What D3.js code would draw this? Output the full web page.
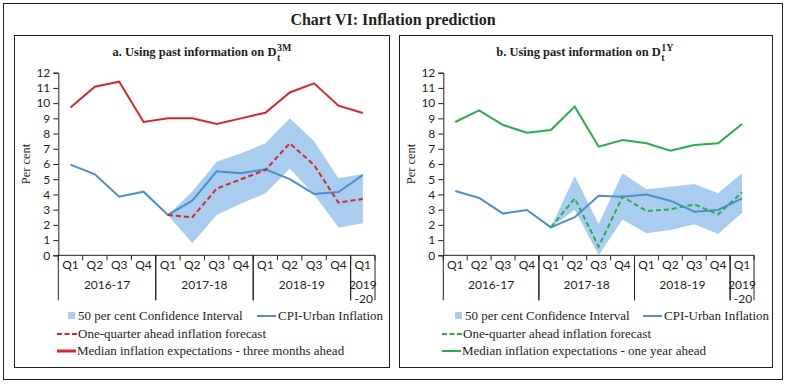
<!DOCTYPE html>
<html>
<head>
<meta charset="utf-8">
<script src="https://cdn.jsdelivr.net/npm/d3@7"></script>
<style>
  body { margin: 0; background: #fff; }
  svg { display: block; }
  .serif { font-family: "Liberation Serif", "DejaVu Serif", serif; fill: #231f20; }
  .tick text { font-family: Lato, "Open Sans", sans-serif; font-size: 12px; fill: #231f20; }
</style>
</head>
<body>
<div id="chart"></div>
<script>
// categories
const quarters = ['Q1','Q2','Q3','Q4','Q1','Q2','Q3','Q4','Q1','Q2','Q3','Q4','Q1'];
const years = [
  {label: ['2016-17'], start: 0, end: 4},
  {label: ['2017-18'], start: 4, end: 8},
  {label: ['2018-19'], start: 8, end: 12},
  {label: ['2019', '-20'], start: 12, end: 13}
];
const yTicks = [0,1,2,3,4,5,6,7,8,9,10,11,12];

// panel a: three months ahead
const cpiA      = [5.96, 5.32, 3.85, 4.18, 2.65, 3.59, 5.52, 5.39, 5.65, 5.01, 4.03, 4.16, 5.28];
const medianA   = [9.72, 11.08, 11.41, 8.76, 9.0, 9.0, 8.63, 9.0, 9.37, 10.7, 11.3, 9.83, 9.35];
const forecastA = [null, null, null, null, 2.65, 2.5, 4.38, 5.0, 5.6, 7.36, 5.93, 3.46, 3.7];
const ciUpperA  = [null, null, null, null, 2.65, 4.2, 6.15, 6.7, 7.36, 9.0, 7.5, 5.06, 5.35];
const ciLowerA  = [null, null, null, null, 2.65, 0.79, 2.65, 3.4, 4.07, 5.68, 4.0, 1.82, 2.1];

// panel b: one year ahead
const cpiB      = [4.23, 3.77, 2.74, 2.98, 1.84, 2.5, 3.92, 3.85, 4.0, 3.59, 2.87, 2.98, 3.74];
const medianB   = [8.76, 9.52, 8.56, 8.06, 8.23, 9.77, 7.14, 7.58, 7.36, 6.88, 7.25, 7.36, 8.63];
const forecastB = [null, null, null, null, 1.84, 3.74, 0.57, 3.85, 2.91, 3.02, 3.35, 2.69, 4.14];
const ciUpperB  = [null, null, null, null, 1.84, 5.21, 2.05, 5.39, 4.34, 4.51, 4.69, 4.07, 5.39];
const ciLowerB  = [null, null, null, null, 1.84, 3.0, 0.0, 2.36, 1.45, 1.66, 2.04, 1.4, 2.8];

const W = 787, H = 384;
const blue = '#4a8fd2', ciBlue = '#a9cdee', red = '#d7282b', green = '#2aae4a';

const svg = d3.select('#chart').append('svg').attr('width', W).attr('height', H);

svg.append('rect').attr('x', 3.5).attr('y', 3.5).attr('width', 779).attr('height', 376)
  .attr('fill', 'none').attr('stroke', '#231f20').attr('stroke-width', 1);
svg.append('text').attr('class', 'serif').attr('x', 393).attr('y', 25)
  .attr('text-anchor', 'middle').attr('font-size', 16).attr('font-weight', 'bold')
  .text('Chart VI: Inflation prediction');

function drawPanel(opt) {
  const g = svg.append('g');
  g.append('rect').attr('x', opt.box[0] + 0.5).attr('y', 35.5)
    .attr('width', opt.box[1] - opt.box[0]).attr('height', 332)
    .attr('fill', 'none').attr('stroke', '#231f20').attr('stroke-width', 1);

  // title with stacked super/subscript
  const cx = (opt.box[0] + opt.box[1]) / 2;
  const title = g.append('text').attr('class', 'serif').attr('y', 56)
    .attr('font-size', 12.5).attr('font-weight', 'bold').text(opt.title);
  const tw = title.node().getComputedTextLength();
  const x0 = cx - (tw + 14) / 2;
  title.attr('x', x0);
  g.append('text').attr('class', 'serif').attr('x', x0 + tw + 0.5).attr('y', 51)
    .attr('font-size', 10).attr('font-weight', 'bold').text(opt.sup);
  g.append('text').attr('class', 'serif').attr('x', x0 + tw + 0.5).attr('y', 61)
    .attr('font-size', 10).attr('font-weight', 'bold').text('t');

  const x = d3.scaleBand().domain(d3.range(quarters.length)).range(opt.xr).padding(0);
  const y = d3.scaleLinear().domain([0, 12]).range([255.3, 72.7]);
  const px = i => x(i) + x.bandwidth() / 2;

  // confidence band
  const idx = d3.range(quarters.length).filter(i => opt.upper[i] != null);
  g.append('path').datum(idx)
    .attr('fill', ciBlue).attr('stroke', 'none')
    .attr('d', d3.area().x(px).y0(i => y(opt.lower[i])).y1(i => y(opt.upper[i])));

  // y axis
  const ya = g.append('g').attr('transform', `translate(${opt.xr[0]},0)`)
    .call(d3.axisLeft(y).tickValues(yTicks).tickSize(5).tickPadding(3));
  ya.select('.domain').attr('stroke', '#231f20');
  ya.selectAll('.tick line').attr('stroke', '#231f20');

  // x axis: short ticks at each quarter, long at year boundaries
  const xa = g.append('g').attr('transform', 'translate(0,255.3)');
  xa.append('line').attr('x1', opt.xr[0]).attr('x2', opt.xr[1])
    .attr('stroke', '#231f20');
  d3.range(quarters.length + 1).forEach(i => {
    const bx = i < quarters.length ? x(i) : opt.xr[1];
    xa.append('line').attr('x1', bx).attr('x2', bx).attr('y1', 0).attr('y2', 5)
      .attr('stroke', '#231f20');
  });
  years.forEach(yr => {
    [yr.start, yr.end].forEach(b => {
      const bx = b < quarters.length ? x(b) : opt.xr[1];
      xa.append('line').attr('x1', bx).attr('x2', bx).attr('y1', 0).attr('y2', 45)
        .attr('stroke', '#231f20');
    });
    const mx = (x(yr.start) + (yr.end < quarters.length ? x(yr.end) : opt.xr[1])) / 2;
    yr.label.forEach((l, k) => {
      xa.append('text').attr('x', mx + (k ? 1 : 0)).attr('y', 34 + k * 14)
        .attr('text-anchor', 'middle')
        .style('font-family', 'Lato, sans-serif').style('font-size', '12px').style('fill', '#231f20')
        .text(l);
    });
  });
  quarters.forEach((q, i) => {
    xa.append('text').attr('x', px(i)).attr('y', 14).attr('text-anchor', 'middle')
      .style('font-family', 'Lato, sans-serif').style('font-size', '12px').style('fill', '#231f20')
      .text(q);
  });

  g.append('text').attr('class', 'serif').attr('font-size', 12.5)
    .attr('transform', `translate(${opt.xr[0] - 28},164) rotate(-90)`)
    .attr('text-anchor', 'middle').text('Per cent');

  const line = d3.line().defined(d => d != null).x((d, i) => px(i)).y(d => y(d));
  g.append('path').datum(opt.median).attr('fill', 'none').attr('stroke', opt.color)
    .attr('stroke-width', 2).attr('d', line);
  g.append('path').datum(opt.cpi).attr('fill', 'none').attr('stroke', blue)
    .attr('stroke-width', 2).attr('d', line);
  g.append('path').datum(opt.forecast).attr('fill', 'none').attr('stroke', opt.color)
    .attr('stroke-width', 2).attr('stroke-dasharray', '5,3').attr('d', line);

  // legend
  const L = g.append('g').attr('class', 'serif').attr('font-size', 13);
  const lx = opt.box[0];
  L.append('rect').attr('x', lx + opt.leg[0]).attr('y', 312).attr('width', 7).attr('height', 7).attr('fill', ciBlue);
  L.append('text').attr('x', lx + opt.leg[0] + 10).attr('y', 320).text('50 per cent Confidence Interval');
  L.append('line').attr('x1', lx + opt.leg[1]).attr('x2', lx + opt.leg[1] + 19).attr('y1', 316).attr('y2', 316)
    .attr('stroke', blue).attr('stroke-width', 2);
  L.append('text').attr('x', lx + opt.leg[1] + 21).attr('y', 320).text('CPI-Urban Inflation');
  L.append('line').attr('x1', lx + opt.leg[2]).attr('x2', lx + opt.leg[2] + 20).attr('y1', 334).attr('y2', 334)
    .attr('stroke', opt.color).attr('stroke-width', 2).attr('stroke-dasharray', '5,2.5');
  L.append('text').attr('x', lx + opt.leg[2] + 21).attr('y', 338).text('One-quarter ahead inflation forecast');
  L.append('line').attr('x1', lx + opt.leg[2]).attr('x2', lx + opt.leg[2] + 19).attr('y1', 351).attr('y2', 351)
    .attr('stroke', opt.color).attr('stroke-width', opt.medW);
  L.append('text').attr('x', lx + opt.leg[2] + 20).attr('y', 355).text(opt.medLabel);
}

drawPanel({
  box: [14, 389], xr: [58.3, 375], title: 'a. Using past information on D', sup: '3M',
  cpi: cpiA, median: medianA, forecast: forecastA, upper: ciUpperA, lower: ciLowerA,
  color: red, leg: [54, 243, 43], medW: 3, medLabel: 'Median inflation expectations - three months ahead'
});
drawPanel({
  box: [399, 772], xr: [443.3, 754], title: 'b. Using past information on D', sup: '1Y',
  cpi: cpiB, median: medianB, forecast: forecastB, upper: ciUpperB, lower: ciLowerB,
  color: green, leg: [56, 244, 43], medW: 2, medLabel: 'Median inflation expectations - one year ahead'
});
</script>
</body>
</html>
